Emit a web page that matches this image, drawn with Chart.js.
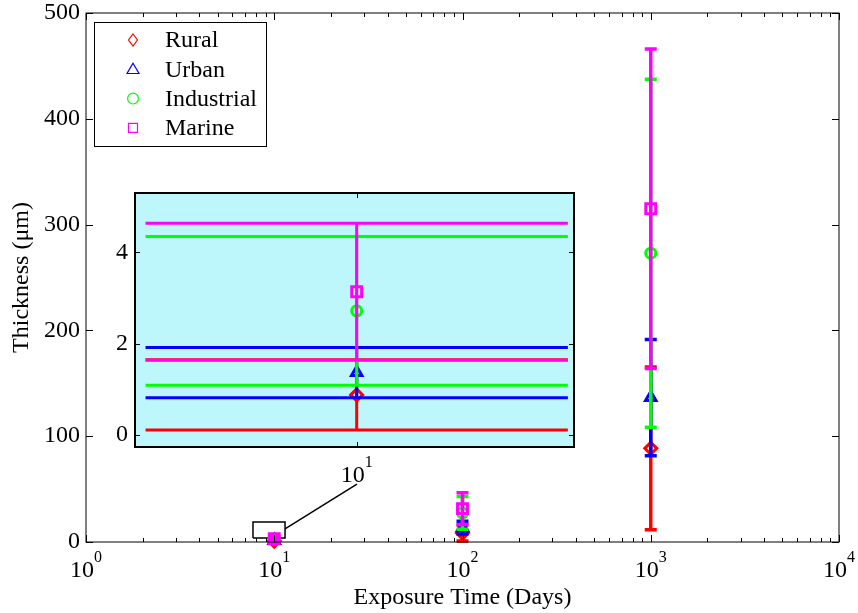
<!DOCTYPE html>
<html>
<head>
<meta charset="utf-8">
<script src="https://cdn.jsdelivr.net/npm/chart.js@4.4.1/dist/chart.umd.min.js"></script>
<style>
html, body { margin: 0; padding: 0; background: #fff; }
#wrap { position: relative; width: 858px; height: 613px; }
#main { position: absolute; left: 0; top: 0; }
#inset { position: absolute; left: 95px; top: 183px; }
</style>
</head>
<body>
<div id="wrap">
<canvas id="main" width="858" height="613"></canvas>
<canvas id="inset" width="490" height="310"></canvas>
</div>
<script>
const days = [10, 100, 1000]
const seriesNames = ['Rural', 'Urban', 'Industrial', 'Marine']
const ruralMean = [0.88, 8.5, 88.5]
const ruralErr = [0.77, 7.5, 77]
const urbanMean = [1.37, 13.5, 136.5]
const urbanErr = [0.55, 6, 55]
const industrialMean = [2.72, 27.5, 273]
const industrialErr = [1.63, 15.5, 164.5]
const marineMean = [3.14, 31.5, 315]
const marineErr = [1.5, 15, 151]

const xTicks = [1, 10, 100, 1000, 10000]
const yTicks = [0, 100, 200, 300, 400, 500]
const insetXTicks = [10]
const insetYTicks = [0, 2, 4]

// rectangle round the 10-day points and the leader line up to the inset
const zoomBoxX = [7.71, 11.41]
const zoomBoxY = [3.8, 18.9]
const leaderX = [11.41, 27.5]
const leaderY = [12.3, 54.8]

const FONT = "'Liberation Serif', 'Times New Roman', serif"
Chart.defaults.font.family = FONT
Chart.defaults.color = '#000'

const styles = [
    {color: '#ff0000', point: 'rectRot', radius: 6},
    {color: '#0000ff', point: 'triangle', radius: 6},
    {color: '#00ff00', point: 'circle', radius: 5},
    {color: '#ff00ff', point: 'rect', radius: 7}
]
const means = [ruralMean, urbanMean, industrialMean, marineMean]
const errs = [ruralErr, urbanErr, industrialErr, marineErr]

function buildSeries(i, clip){
    return {
        label: seriesNames[i],
        data: days.map((d, k) => ({x: d, y: means[i][k]})),
        errors: errs[i],
        showLine: false,
        pointStyle: styles[i].point,
        pointRadius: styles[i].radius,
        pointBorderWidth: 3,
        borderColor: styles[i].color,
        backgroundColor: 'rgba(0,0,0,0)',
        order: 4 - i,
        clip: clip
    }
}

// vertical error bars with caps, drawn just before each series' markers
const errorBars = {
    id: 'errorBars',
    beforeDatasetDraw(chart, args, opts){
        const ds = chart.data.datasets[args.index]
        if(!ds.errors) return
        const xs = chart.scales.x, ys = chart.scales.y, ctx = chart.ctx, a = chart.chartArea
        ctx.save()
        if(opts.clip){
            ctx.beginPath()
            ctx.rect(a.left, a.top, a.width, a.height)
            ctx.clip()
        }
        ctx.strokeStyle = ds.borderColor
        ctx.lineWidth = opts.lineWidth
        ds.data.forEach((p, k) => {
            const x = xs.getPixelForValue(p.x)
            const lo = ys.getPixelForValue(p.y - ds.errors[k])
            const hi = ys.getPixelForValue(p.y + ds.errors[k])
            let c1 = x - opts.capPx, c2 = x + opts.capPx
            if(opts.capData){
                c1 = xs.getPixelForValue(p.x - opts.capData)
                c2 = xs.getPixelForValue(p.x + opts.capData)
            }
            ctx.beginPath()
            ctx.moveTo(x, lo); ctx.lineTo(x, hi)
            ctx.moveTo(c1, lo); ctx.lineTo(c2, lo)
            ctx.moveTo(c1, hi); ctx.lineTo(c2, hi)
            ctx.stroke()
        })
        ctx.restore()
    }
}

// matlab style box with inward ticks on all four sides
const frame = {
    id: 'frame',
    beforeDatasetsDraw(chart, args, opts){
        if(!opts.fill) return
        const a = chart.chartArea
        chart.ctx.save()
        chart.ctx.fillStyle = opts.fill
        chart.ctx.fillRect(a.left, a.top, a.width, a.height)
        chart.ctx.restore()
    },
    afterDatasetsDraw(chart, args, opts){
        const a = chart.chartArea, ctx = chart.ctx
        const xs = chart.scales.x, ys = chart.scales.y
        ctx.save()
        ctx.strokeStyle = '#000'
        ctx.lineWidth = 1
        ctx.beginPath()
        const xTick = (v, len) => {
            const x = Math.round(xs.getPixelForValue(v)) + 0.5
            ctx.moveTo(x, a.bottom); ctx.lineTo(x, a.bottom - len)
            ctx.moveTo(x, a.top); ctx.lineTo(x, a.top + len)
        }
        opts.xMajor.forEach(v => xTick(v, opts.major))
        ;(opts.xMinor || []).forEach(v => xTick(v, opts.minor))
        opts.yMajor.forEach(v => {
            const y = Math.round(ys.getPixelForValue(v)) + 0.5
            ctx.moveTo(a.left, y); ctx.lineTo(a.left + opts.major, y)
            ctx.moveTo(a.right, y); ctx.lineTo(a.right - opts.major, y)
        })
        ctx.stroke()
        ctx.lineWidth = opts.lineWidth
        ctx.strokeRect(a.left, a.top, a.width, a.height)
        ctx.restore()
    }
}

// "10" with a raised exponent under each decade
const powerLabels = {
    id: 'powerLabels',
    afterDraw(chart, args, opts){
        const ctx = chart.ctx, xs = chart.scales.x, a = chart.chartArea
        ctx.save()
        ctx.fillStyle = '#000'
        ctx.textBaseline = 'middle'
        opts.values.forEach(v => {
            const x = xs.getPixelForValue(v)
            const exp = String(Math.round(Math.log10(v)))
            ctx.font = `24px ${FONT}`
            const w1 = ctx.measureText('10').width
            ctx.font = `16px ${FONT}`
            const w2 = ctx.measureText(exp).width
            const left = x - (w1 + w2) / 2
            ctx.font = `24px ${FONT}`
            ctx.textAlign = 'left'
            ctx.fillText('10', left, a.bottom + 29)
            ctx.font = `16px ${FONT}`
            ctx.fillText(exp, left + w1, a.bottom + 16)
        })
        ctx.restore()
    }
}

const titles = {
    id: 'titles',
    afterDraw(chart){
        const ctx = chart.ctx, a = chart.chartArea
        ctx.save()
        ctx.fillStyle = '#000'
        ctx.font = `24px ${FONT}`
        ctx.textAlign = 'center'
        ctx.textBaseline = 'middle'
        ctx.fillText('Exposure Time (Days)', (a.left + a.right) / 2, 598)
        ctx.translate(22, (a.top + a.bottom) / 2)
        ctx.rotate(-Math.PI / 2)
        ctx.fillText('Thickness (μm)', 0, 0)
        ctx.restore()
    }
}

function drawMarker(ctx, style, x, y, r){
    ctx.beginPath()
    if(style === 'rectRot'){
        ctx.moveTo(x, y - r); ctx.lineTo(x + r * 0.75, y); ctx.lineTo(x, y + r); ctx.lineTo(x - r * 0.75, y); ctx.closePath()
    } else if(style === 'triangle'){
        ctx.moveTo(x, y - r); ctx.lineTo(x + r, y + r * 0.7); ctx.lineTo(x - r, y + r * 0.7); ctx.closePath()
    } else if(style === 'circle'){
        ctx.arc(x, y, r * 0.9, 0, Math.PI * 2)
    } else {
        ctx.rect(x - r * 0.75, y - r * 0.75, r * 1.5, r * 1.5)
    }
    ctx.stroke()
}

const boxLegend = {
    id: 'boxLegend',
    afterDraw(chart){
        const ctx = chart.ctx
        ctx.save()
        ctx.fillStyle = '#fff'
        ctx.fillRect(94.5, 22.5, 172, 124)
        ctx.strokeStyle = '#000'
        ctx.lineWidth = 1
        ctx.strokeRect(94.5, 22.5, 172, 124)
        ctx.font = `24px ${FONT}`
        ctx.textBaseline = 'middle'
        ctx.textAlign = 'left'
        seriesNames.forEach((name, i) => {
            const y = 40 + i * 29.3
            ctx.strokeStyle = styles[i].color
            ctx.lineWidth = 1.2
            drawMarker(ctx, styles[i].point, 133, y, 6)
            ctx.fillStyle = '#000'
            ctx.fillText(name, 165, y + 1)
        })
        ctx.restore()
    }
}

const minorTicks = []
for(const d of [1, 10, 100, 1000]){
    for(let m = 2; m <= 9; m++) minorTicks.push(d * m)
}

const mainDatasets = [0, 1, 2, 3].map(i => buildSeries(i, false))
mainDatasets.push({
    label: 'zoom',
    data: [
        {x: zoomBoxX[0], y: zoomBoxY[0]}, {x: zoomBoxX[1], y: zoomBoxY[0]},
        {x: zoomBoxX[1], y: zoomBoxY[1]}, {x: zoomBoxX[0], y: zoomBoxY[1]},
        {x: zoomBoxX[0], y: zoomBoxY[0]}
    ],
    showLine: true, pointRadius: 0, borderColor: '#000', borderWidth: 1.5, order: 10, clip: false
})
mainDatasets.push({
    label: 'leader',
    data: leaderX.map((x, k) => ({x: x, y: leaderY[k]})),
    showLine: true, pointRadius: 0, borderColor: '#000', borderWidth: 1.5, order: 10, clip: false
})

new Chart(document.getElementById('main'), {
    type: 'scatter',
    data: {datasets: mainDatasets},
    options: {
        responsive: false,
        animation: false,
        events: [],
        layout: {padding: {top: 13, right: 19, left: 0, bottom: 0}},
        scales: {
            x: {
                type: 'logarithmic', min: 1, max: 10000,
                grid: {display: false, drawTicks: false},
                border: {display: false},
                ticks: {display: false},
                afterFit(s){ s.height = 71 }
            },
            y: {
                min: 0, max: 500,
                grid: {display: false, drawTicks: false},
                border: {display: false},
                ticks: {font: {size: 24, lineHeight: 1}, padding: 6, color: '#000'},
                afterBuildTicks(s){ s.ticks = yTicks.map(v => ({value: v})) },
                afterFit(s){ s.width = 86; s.paddingTop = 0; s.paddingBottom = 0 }
            }
        },
        plugins: {
            legend: {display: false},
            tooltip: {enabled: false},
            errorBars: {lineWidth: 3.5, capPx: 6},
            frame: {xMajor: xTicks, xMinor: minorTicks, yMajor: yTicks, major: 7, minor: 4, lineWidth: 1},
            powerLabels: {values: xTicks}
        }
    },
    plugins: [errorBars, frame, powerLabels, titles, boxLegend]
})

new Chart(document.getElementById('inset'), {
    type: 'scatter',
    data: {datasets: [0, 1, 2, 3].map(i => buildSeries(i, true))},
    options: {
        responsive: false,
        animation: false,
        events: [],
        layout: {padding: {top: 10, right: 11, left: 0, bottom: 0}},
        scales: {
            x: {
                min: 9.495, max: 10.495,
                grid: {display: false, drawTicks: false},
                border: {display: false},
                ticks: {display: false},
                afterFit(s){ s.height = 46 }
            },
            y: {
                min: -0.26, max: 5.3,
                grid: {display: false, drawTicks: false},
                border: {display: false},
                ticks: {font: {size: 24, lineHeight: 1}, padding: 7, color: '#000'},
                afterBuildTicks(s){ s.ticks = insetYTicks.map(v => ({value: v})) },
                afterFit(s){ s.width = 40; s.paddingTop = 0; s.paddingBottom = 0 }
            }
        },
        plugins: {
            legend: {display: false},
            tooltip: {enabled: false},
            errorBars: {lineWidth: 3, capData: 0.481, clip: true},
            frame: {fill: '#bef7fb', xMajor: insetXTicks, yMajor: insetYTicks, major: 5, minor: 3, lineWidth: 2},
            powerLabels: {values: insetXTicks}
        }
    },
    plugins: [errorBars, frame, powerLabels]
})
</script>
</body>
</html>
